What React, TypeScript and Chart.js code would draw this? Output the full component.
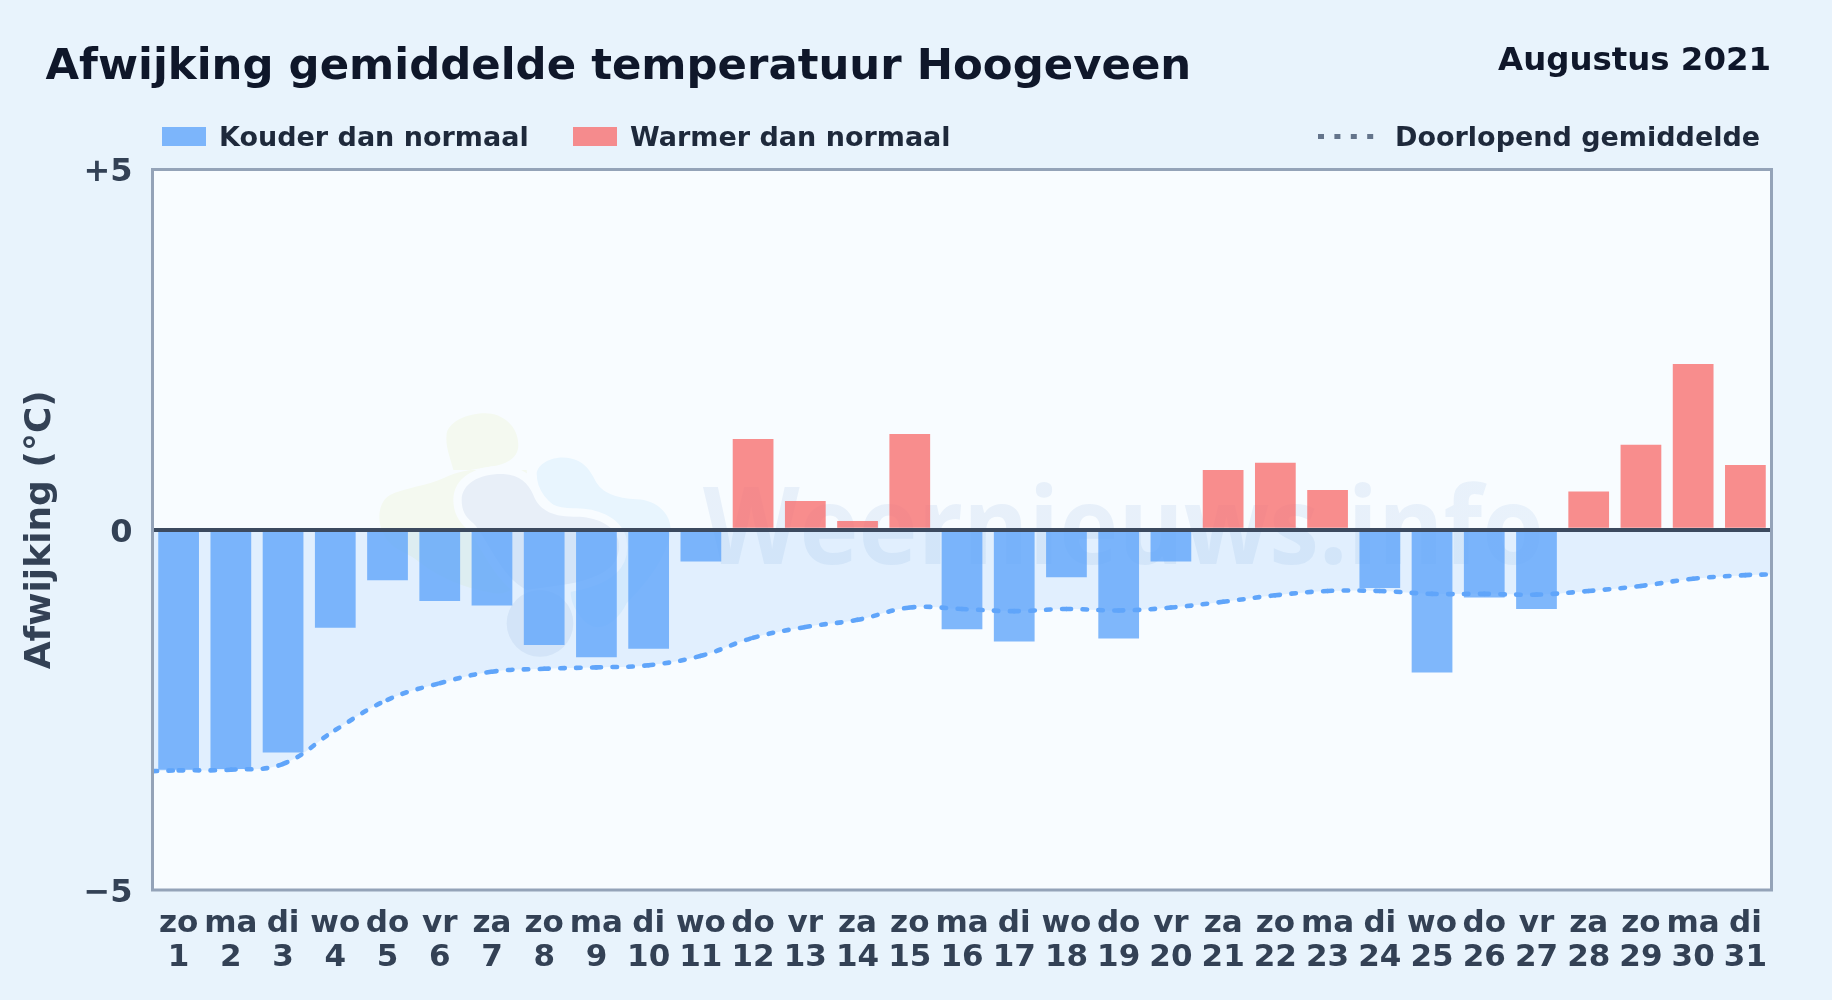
import React, { useEffect, useRef } from "react";
import { Chart, registerables } from "chart.js";

Chart.register(...registerables);

const weekdays = ["zo","ma","di","wo","do","vr","za","zo","ma","di","wo","do","vr","za","zo","ma","di","wo","do","vr","za","zo","ma","di","wo","do","vr","za","zo","ma","di"];
const days = ["1","2","3","4","5","6","7","8","9","10","11","12","13","14","15","16","17","18","19","20","21","22","23","24","25","26","27","28","29","30","31"];
const coldValues = [-3.33,-3.32,-3.09,-1.36,-0.70,-0.99,-1.05,-1.60,-1.77,-1.65,-0.44,null,null,null,null,-1.38,-1.55,-0.66,-1.51,-0.44,null,null,null,-0.81,-1.98,-0.94,-1.10,null,null,null,null];
const warmValues = [null,null,null,null,null,null,null,null,null,null,null,1.26,0.40,0.12,1.33,null,null,null,null,null,0.83,0.93,0.55,null,null,null,null,0.53,1.18,2.30,0.90];
const runningMean = [-3.34,-3.33,-3.25,-2.78,-2.36,-2.13,-1.97,-1.93,-1.91,-1.88,-1.75,-1.50,-1.35,-1.25,-1.08,-1.10,-1.13,-1.10,-1.12,-1.08,-1.00,-0.91,-0.85,-0.85,-0.89,-0.89,-0.90,-0.85,-0.78,-0.68,-0.63];
const meanAtLeftEdge = -3.35;
const meanAtRightEdge = -0.62;
const legendLabels = ["Kouder dan normaal", "Warmer dan normaal", "Doorlopend gemiddelde"];
const titleText = "Afwijking gemiddelde temperatuur Hoogeveen";
const periodText = "Augustus 2021";
const axisTitle = "Afwijking (°C)";
const watermarkText = "Weernieuws.info";

const FONT = '"DejaVu Sans", sans-serif';
const PAGE_BG = "#e8f3fc";
const PLOT_BG = "#f8fcff";

const meanPoints = [
  { x: 0, y: meanAtLeftEdge },
  ...runningMean.map((y, i) => ({ x: i + 0.5, y })),
  { x: days.length, y: meanAtRightEdge },
];

const chrome = {
  id: "chrome",
  beforeDraw(chart: any) {
    const { ctx, chartArea: a, width, height } = chart;
    ctx.save();
    ctx.fillStyle = PAGE_BG;
    ctx.fillRect(0, 0, width, height);
    ctx.fillStyle = PLOT_BG;
    ctx.fillRect(a.left, a.top, a.width, a.height);

    ctx.beginPath();
    ctx.rect(a.left, a.top, a.width, a.height);
    ctx.clip();

    ctx.save();
    ctx.translate(360, 390);
    ctx.scale(1 / 3, 1 / 3);
    const green = new Path2D("M260 130 C270 90 330 70 375 70 C430 70 475 110 475 165 C475 205 440 225 380 232 C330 240 290 245 250 265 C210 285 130 295 90 315 C55 335 50 390 70 430 C90 480 130 480 170 510 C230 560 300 590 400 610 C460 620 500 560 520 500 L500 240 L280 240 C270 200 255 170 260 130 Z");
    const blue = new Path2D("M530 250 C535 215 590 195 630 205 C670 212 690 240 705 270 C725 310 770 325 830 328 C890 330 930 370 932 415 C930 480 880 560 800 640 C770 700 720 730 680 700 C640 660 620 620 640 560 L700 420 L620 370 C560 340 530 300 530 250 Z");
    const gray = new Path2D("M305 330 C305 280 360 250 430 252 C480 255 505 280 520 315 C535 355 570 380 640 380 C700 378 760 400 775 450 C785 510 750 545 690 565 C640 585 560 590 500 600 C420 560 380 440 340 400 C315 380 305 360 305 330 Z");
    ctx.fillStyle = "#f4f9f0";
    ctx.fill(green);
    ctx.fillStyle = "#e8f5fe";
    ctx.fill(blue);
    ctx.strokeStyle = PLOT_BG;
    ctx.lineWidth = 50;
    ctx.lineJoin = "round";
    ctx.stroke(gray);
    ctx.fillStyle = "#e8eff8";
    ctx.fill(gray);
    ctx.beginPath();
    ctx.arc(540, 700, 100, 0, Math.PI * 2);
    ctx.fill();
    ctx.restore();

    const grad = ctx.createLinearGradient(700, 0, 1550, 0);
    grad.addColorStop(0, "rgba(37,99,190,0.08)");
    grad.addColorStop(1, "rgba(56,160,246,0.055)");
    ctx.fillStyle = grad;
    ctx.font = `bold 108px "Open Sans", sans-serif`;
    ctx.textAlign = "left";
    ctx.textBaseline = "alphabetic";
    ctx.translate(703, 564);
    ctx.scale(0.925, 1);
    ctx.fillText(watermarkText, 0, 0);
    ctx.restore();
  },
  afterDraw(chart: any) {
    const { ctx, chartArea: a } = chart;
    ctx.save();
    ctx.strokeStyle = "#94a3b8";
    ctx.lineWidth = 3;
    ctx.strokeRect(a.left, a.top, a.width, a.height);

    ctx.textBaseline = "alphabetic";
    ctx.textAlign = "left";
    ctx.fillStyle = "#0f172a";
    ctx.font = `bold 43.4px ${FONT}`;
    ctx.fillText(titleText, 45.5, 78.5);
    ctx.textAlign = "right";
    ctx.font = `bold 32.4px ${FONT}`;
    ctx.fillText(periodText, 1771, 70);

    ctx.textAlign = "left";
    ctx.font = `bold 27px ${FONT}`;
    const ds = chart.data.datasets;
    ctx.fillStyle = ds[0].backgroundColor;
    ctx.fillRect(162, 127, 44, 19);
    ctx.fillStyle = ds[1].backgroundColor;
    ctx.fillRect(573, 127, 44, 19);
    ctx.fillStyle = "#1e293b";
    ctx.fillText(ds[0].label, 219, 145.5);
    ctx.fillText(ds[1].label, 630, 145.5);
    ctx.fillText(ds[2].label, 1395, 145.5);
    ctx.strokeStyle = "#64748b";
    ctx.lineWidth = 5;
    ctx.setLineDash([6, 10.4]);
    ctx.beginPath();
    ctx.moveTo(1318, 136.5);
    ctx.lineTo(1374, 136.5);
    ctx.stroke();
    ctx.restore();
  },
};

export default function App() {
  const ref = useRef<HTMLCanvasElement>(null);
  useEffect(() => {
    document.body.style.margin = "0";
    document.body.style.background = PAGE_BG;
    const chart = new Chart(ref.current as HTMLCanvasElement, {
      type: "bar",
      data: {
        labels: weekdays.map((w, i) => [w, days[i]]),
        datasets: [
          {
            label: legendLabels[0],
            data: coldValues,
            backgroundColor: "rgba(96,165,250,0.8)",
            grouped: false,
            barPercentage: 0.78,
            categoryPercentage: 1,
            order: 2,
          },
          {
            label: legendLabels[1],
            data: warmValues,
            backgroundColor: "rgba(248,113,113,0.8)",
            grouped: false,
            barPercentage: 0.78,
            categoryPercentage: 1,
            order: 2,
          },
          {
            type: "line",
            label: legendLabels[2],
            data: meanPoints,
            xAxisID: "x2",
            borderColor: "#60a5fa",
            borderWidth: 4.6,
            borderDash: [4.5, 11.5],
            borderCapStyle: "round",
            fill: false,
            pointRadius: 0,
            tension: 0.4,
            order: 1,
            segment: {
              borderDashOffset: (c: any) => (c.p0DataIndex % 2 ? 0 : 0.001),
            },
          },
          {
            type: "line",
            label: "",
            data: meanPoints,
            xAxisID: "x2",
            borderWidth: 0,
            backgroundColor: "rgba(96,165,250,0.15)",
            fill: "origin",
            pointRadius: 0,
            tension: 0.4,
            order: 3,
          },
        ] as any,
      },
      options: {
        responsive: false,
        animation: false,
        devicePixelRatio: 1,
        layout: { padding: { left: 0, right: 60.5, top: 169.5, bottom: 0 } },
        plugins: {
          legend: { display: false },
          title: { display: false },
          tooltip: { enabled: false },
          filler: { drawTime: "beforeDatasetsDraw" },
        },
        scales: {
          x: {
            grid: { display: false },
            border: { display: false },
            afterFit: (s: any) => { s.height = 110; },
            ticks: {
              color: "#334155",
              font: { family: FONT, weight: "bold", size: 31, lineHeight: "34px" },
              maxRotation: 0,
              minRotation: 0,
              autoSkip: false,
              padding: 9,
            },
          },
          x2: { type: "linear", display: false, min: 0, max: days.length, offset: false },
          y: {
            min: -5,
            max: 5,
            afterFit: (s: any) => { s.width = 152.5; },
            border: { display: false },
            grid: {
              z: 1,
              drawTicks: false,
              color: (c: any) => (c.tick.value === 0 ? "#3c4a5f" : "rgba(0,0,0,0)"),
              lineWidth: (c: any) => (c.tick.value === 0 ? 4 : 0),
            },
            title: {
              display: true,
              text: axisTitle,
              color: "#334155",
              font: { family: FONT, weight: "bold", size: 36 },
              padding: { top: 19, bottom: 0 },
            },
            ticks: {
              stepSize: 5,
              color: "#334155",
              font: { family: FONT, weight: "bold", size: 32, lineHeight: "7px" },
              padding: 20,
              callback: (v: any) => ["", v > 0 ? `+${v}` : v < 0 ? `\u2212${Math.abs(v)}` : `${v}`],
            },
          },
        },
      } as any,
      plugins: [chrome],
    } as any);
    return () => chart.destroy();
  }, []);
  return <canvas ref={ref} width={1832} height={1000} style={{ display: "block", width: 1832, height: 1000 }} />;
}
